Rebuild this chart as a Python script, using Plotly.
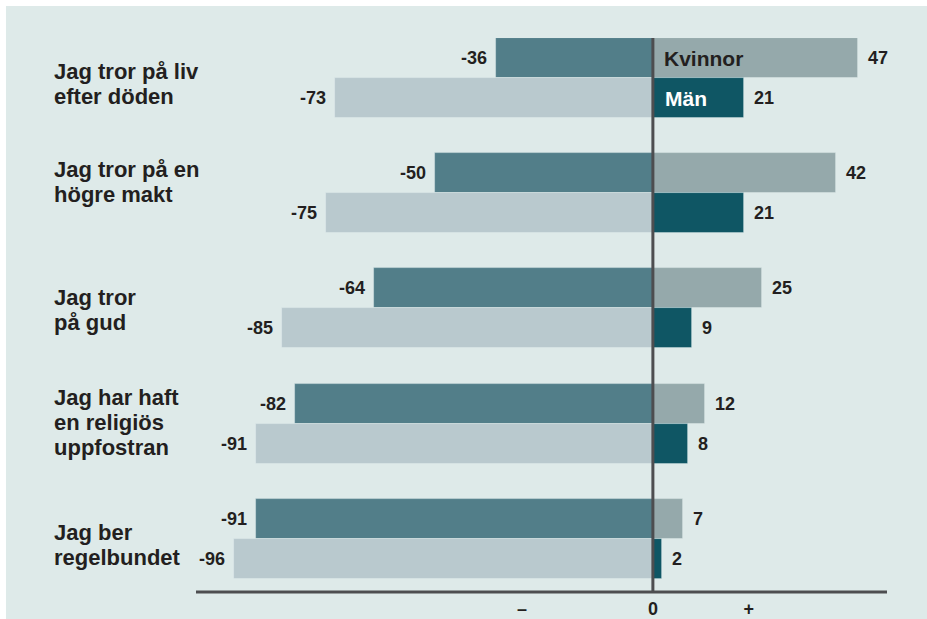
import plotly.graph_objects as go

categories = [
    "Jag tror på liv<br>efter döden",
    "Jag tror på en<br>högre makt",
    "Jag tror<br>på gud",
    "Jag har haft<br>en religiös<br>uppfostran",
    "Jag ber<br>regelbundet",
]
kvinnor_neg = [-36, -50, -64, -82, -91]
man_neg = [-73, -75, -85, -91, -96]
kvinnor_pos = [47, 42, 25, 12, 7]
man_pos = [21, 21, 9, 8, 2]
tick_vals = [-30, 0, 22]
tick_text = ["–", "0", "+"]

BG = "#deeae9"
TXT = "#231f20"
FONT = "Liberation Sans, Arial, sans-serif"
GROUP_STEP = 2.88
LINE_PX = 25
LABEL_SHIFT = [-6, 11, -2, 1, -6]  # small vertical tweaks of the row captions (px)

y_k = [i * GROUP_STEP + 0.5 for i in range(len(categories))]
y_m = [i * GROUP_STEP + 1.5 for i in range(len(categories))]

fig = go.Figure()
def add_bar(x, y, color, name):
    fig.add_trace(go.Bar(
        x=x, y=y, orientation="h", width=1, name=name,
        marker=dict(color=color, line=dict(width=0.8, color="rgba(230,240,240,0.5)")),
        hoverinfo="x", showlegend=False,
    ))

add_bar(kvinnor_neg, y_k, "#527e89", "Kvinnor (-)")
add_bar(man_neg, y_m, "#b9c9ce", "Män (-)")
add_bar(kvinnor_pos, y_k, "#95a9ab", "Kvinnor (+)")
add_bar(man_pos, y_m, "#0f5664", "Män (+)")

annotations = []
for vals, ys in [(kvinnor_neg, y_k), (man_neg, y_m), (kvinnor_pos, y_k), (man_pos, y_m)]:
    for v, yy in zip(vals, ys):
        annotations.append(dict(
            x=v, y=yy, xref="x", yref="y", text=str(v), showarrow=False,
            xanchor="right" if v < 0 else "left", xshift=-7 if v < 0 else 8,
            yanchor="middle", font=dict(family=FONT, size=18, color=TXT, weight="bold"),
        ))

for i, cat in enumerate(categories):
    lines = cat.split("<br>")
    n = len(lines)
    for j, line in enumerate(lines):
        annotations.append(dict(
            x=-0.2084, y=i * GROUP_STEP + 1.0, xref="paper", yref="y", text=line,
            showarrow=False, xanchor="left", yanchor="middle", align="left",
            yshift=((n - 1) / 2 - j) * LINE_PX + LABEL_SHIFT[i],
            font=dict(family=FONT, size=22, color=TXT, weight="bold"),
        ))

annotations.append(dict(x=0, y=y_k[0], xref="x", yref="y", text="Kvinnor", showarrow=False,
                        xanchor="left", xshift=9, yanchor="middle",
                        font=dict(family=FONT, size=21, color=TXT, weight="bold")))
annotations.append(dict(x=0, y=y_m[0], xref="x", yref="y", text="Män", showarrow=False,
                        xanchor="left", xshift=10, yanchor="middle",
                        font=dict(family=FONT, size=21, color="white", weight="bold")))

shapes = [
    dict(type="rect", xref="paper", yref="paper", x0=-0.275, x1=1.2, y0=-0.2, y1=1.0578,
         fillcolor=BG, line=dict(width=0), layer="below"),
    dict(type="line", xref="x", yref="paper", x0=0, x1=0, y0=0, y1=1,
         line=dict(color="#4d4e50", width=3), layer="above"),
    dict(type="line", xref="paper", yref="paper", x0=0, x1=1, y0=0, y1=0,
         line=dict(color="#4d4e50", width=3), layer="above"),
]

fig.update_layout(
    width=927, height=619,
    margin=dict(l=196, r=40, t=38, b=27),
    paper_bgcolor="white", plot_bgcolor=BG,
    barmode="overlay", bargap=0,
    xaxis=dict(range=[-104.8, 53.7], showgrid=False, zeroline=False, showline=False,
               tickvals=tick_vals, ticktext=tick_text, ticks="", automargin=False,
               tickfont=dict(family=FONT, size=18, color=TXT, weight="bold"),
               ticklabelstandoff=4, fixedrange=True),
    yaxis=dict(range=[13.85, 0], showgrid=False, zeroline=False, showline=False,
               showticklabels=False, ticks="", automargin=False, fixedrange=True),
    annotations=annotations, shapes=shapes,
)

fig.write_html(
    "out.html",
    config={"displayModeBar": False},
    post_script="document.body.style.margin='0';document.body.style.overflow='hidden';",
)
